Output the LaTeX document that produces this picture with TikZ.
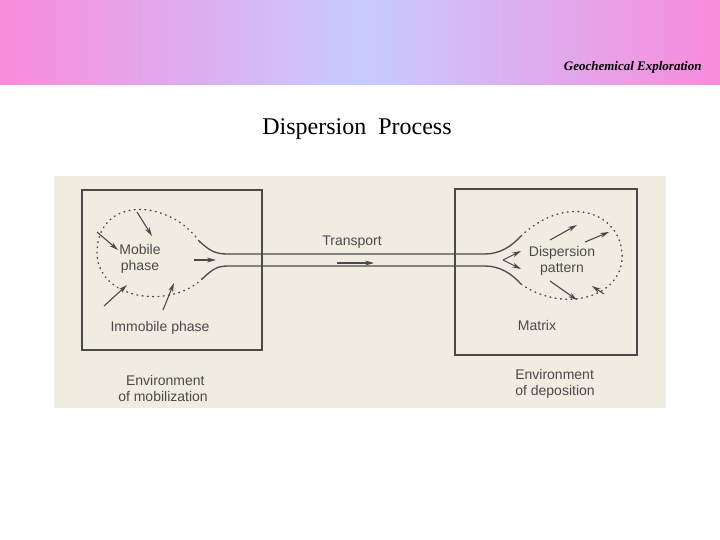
\documentclass[tikz,border=0pt]{standalone}
\usepackage{fontspec}
\setmainfont{Liberation Serif}
\newfontfamily\figfont{Liberation Sans}
\usetikzlibrary{arrows.meta}
\definecolor{hpink}{HTML}{F98BDB}
\definecolor{hlav}{HTML}{C6CCFF}
\definecolor{paper}{HTML}{F1ECE2}
\definecolor{ink}{HTML}{4A4A4A}
\begin{document}
\begin{tikzpicture}[x=1pt,y=-1pt,
  lbl/.style={font=\figfont\fontsize{14}{16}\selectfont, text=ink, align=center, inner sep=0pt},
  ln/.style={draw=ink, line width=1.3pt},
  arr/.style={draw=ink, line width=1.1pt, -{Stealth[length=9pt,width=5pt]}},
  dots/.style={draw=ink, line width=1.4pt, dash pattern=on 0.8pt off 4.5pt, line cap=round}]
\useasboundingbox (0,0) rectangle (720,540);
\fill[white] (0,0) rectangle (720,540);
\shade[left color=hpink, right color=hlav] (0,0) rectangle (360,85);
\shade[left color=hlav, right color=hpink] (360,0) rectangle (720,85);
\node[anchor=base east, font=\bfseries\itshape\fontsize{13}{15}\selectfont] (hdr) at (705,71) {Geochemical Exploration};
\node[anchor=base, font=\fontsize{24}{28}\selectfont] (title) at (357,135) {Dispersion\ \ Process};
\fill[paper] (54,176) rectangle (666,408);
\draw[ln] (82,190) rectangle (262,350);
\draw[ln] (455,189) rectangle (637,355);
% channel
\draw[ln] (199,241) .. controls (210,251) and (215,254) .. (228,254) -- (485,254) .. controls (500,254) and (512,246) .. (521,236);
\draw[ln] (202,279) .. controls (212,270) and (216,266) .. (228,266) -- (485,266) .. controls (500,266) and (512,274) .. (521,284);
% dotted loops
\draw[dots] (199,241) .. controls (170,200) and (100,195) .. (97,250) .. controls (95,300) and (170,310) .. (202,279);
\draw[dots] (521,236) .. controls (570,190) and (625,215) .. (622,260) .. controls (618,300) and (560,312) .. (521,284);
% arrows left
\coordinate (a1s) at (137,212); \coordinate (a1e) at (152,236);
\coordinate (a2s) at (97,232); \coordinate (a2e) at (118,250);
\coordinate (a3s) at (104,306); \coordinate (a3e) at (127,285);
\coordinate (a4s) at (163,310); \coordinate (a4e) at (174,283);
\coordinate (a5s) at (194,260); \coordinate (a5e) at (216,260);
\coordinate (ts) at (337,263); \coordinate (te) at (374,263);
\draw[arr] (a1s) -- (a1e);
\draw[arr] (a2s) -- (a2e);
\draw[arr] (a3s) -- (a3e);
\draw[arr] (a4s) -- (a4e);
\draw[arr] (a5s) -- (a5e);
\draw[arr] (ts) -- (te);
% arrows right
\coordinate (b0) at (503,260);
\coordinate (b1) at (521,251); \coordinate (b2) at (521,269);
\coordinate (b3s) at (550,240); \coordinate (b3e) at (577,225);
\coordinate (b4s) at (585,242); \coordinate (b4e) at (609,232);
\coordinate (b5s) at (550,281); \coordinate (b5e) at (577,300);
\coordinate (b6s) at (604,294); \coordinate (b6e) at (592,286);
\draw[arr] (b0) -- (b1);
\draw[arr] (b0) -- (b2);
\draw[arr] (b3s) -- (b3e);
\draw[arr] (b4s) -- (b4e);
\draw[arr] (b5s) -- (b5e);
\draw[arr] (b6s) -- (b6e);
% labels
\node[lbl] (mob) at (140,259) {Mobile\\phase};
\node[lbl] (tr) at (352,242) {Transport};
\node[lbl] (dp) at (562,261) {Dispersion\\pattern};
\node[lbl] (imm) at (160,328) {Immobile phase};
\node[lbl] (mat) at (537,325) {Matrix};
\node[lbl, align=left] (em) at (163,388) {\ \ Environment\\of mobilization};
\node[lbl, align=left] (ed) at (555,384) {Environment\\of deposition};
\end{tikzpicture}
\end{document}
